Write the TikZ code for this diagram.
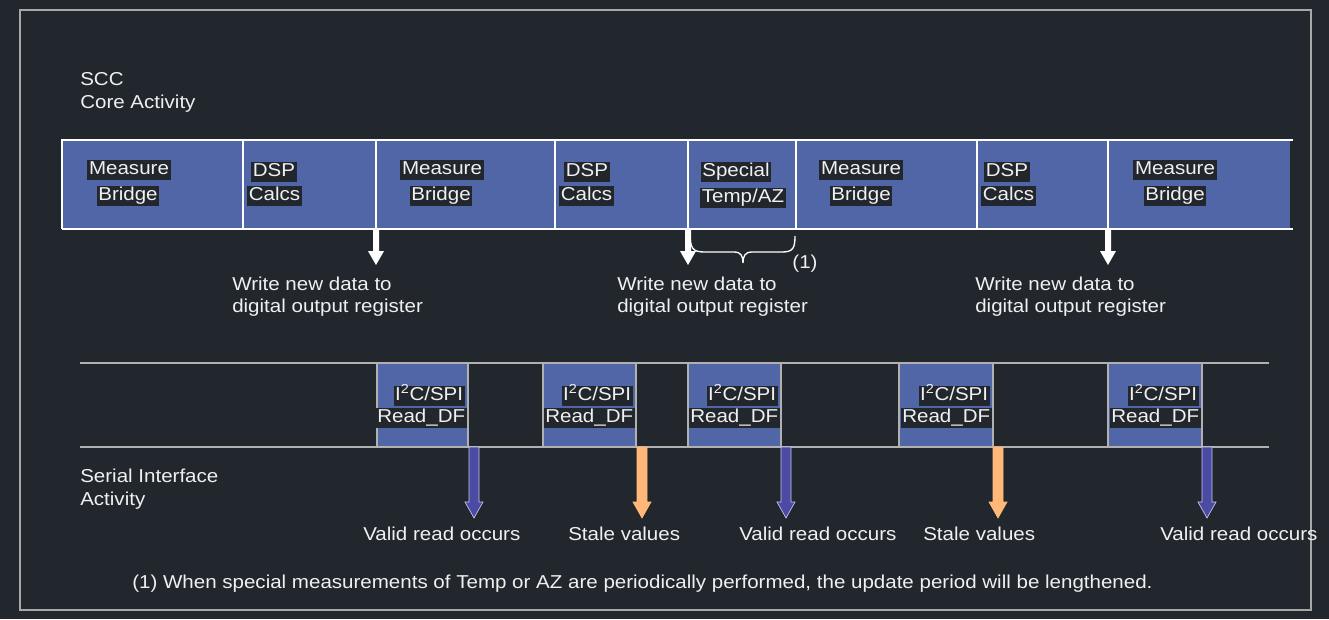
\documentclass[tikz,border=0pt]{standalone}
\usepackage{fontspec}
\setmainfont{Liberation Sans}[FakeStretch=1.1]
\definecolor{bg}{HTML}{22272E}
\definecolor{cellblue}{HTML}{5166A6}
\definecolor{txt}{HTML}{F0F0F0}
\definecolor{framec}{HTML}{A8A8A8}
\definecolor{arrowblue}{HTML}{4B4BA3}
\definecolor{arrowedge}{HTML}{C8C8EE}
\definecolor{orangea}{HTML}{FFB878}
\begin{document}
\begin{tikzpicture}[x=0.75pt,y=-0.75pt,
  lbl/.style={text=txt, inner sep=0pt, font=\fontsize{14}{16}\selectfont},
  hl/.style={lbl, fill=bg, inner sep=1.2pt, text height=10pt, text depth=3pt},
  rowline/.style={draw=white, line width=1pt},
  serline/.style={draw=framec!90!white, line width=1pt},
  pics/wdown/.style={code={
    \fill[white] (-3,0) -- (-3,22) -- (-8,22) -- (0,36) -- (8,22) -- (3,22) -- (3,0) -- cycle;}},
  pics/bdown/.style 2 args={code={
    \filldraw[fill=#1, draw=#2, line width=0.5pt] (-5,0) -- (-5,55) -- (-9,55) -- (0,71) -- (9,55) -- (5,55) -- (5,0) -- cycle;}}
]
\fill[bg] (0,0) rectangle (1329,619);
\useasboundingbox (0,0) rectangle (1329,619);
\draw[framec, line width=1.2pt] (20,10) rectangle (1311,610);

% titles
\node[lbl, anchor=base west] (scc) at (80,85) {SCC};
\node[lbl, anchor=base west] (core) at (80,108) {Core Activity};
\node[lbl, anchor=base west] (ser) at (80,482) {Serial Interface};
\node[lbl, anchor=base west] (act) at (80,505) {Activity};

% top row
\fill[cellblue] (62,140) rectangle (1290,229);
\draw[rowline] (62,229) -- (62,140) -- (1293,140);
\draw[rowline] (62,229) -- (1293,229);
\foreach \x in {243,376,555,688,796,977,1108} \draw[rowline] (\x,140) -- (\x,229);

\node[hl] (m1a) at (129,170) {Measure};
\node[hl] (m1b) at (128,196) {Bridge};
\node[hl, anchor=west] (d1a) at (251,172) {DSP};
\node[hl, anchor=west] (d1b) at (247,196) {Calcs};
\node[hl] (m2a) at (442,170) {Measure};
\node[hl] (m2b) at (441,196) {Bridge};
\node[hl, anchor=west] (d2a) at (564,172) {DSP};
\node[hl, anchor=west] (d2b) at (559,196) {Calcs};
\node[hl] (spa) at (736,172) {Special};
\node[hl] (spb) at (743,198) {Temp/AZ};
\node[hl] (m3a) at (861,170) {Measure};
\node[hl] (m3b) at (861,196) {Bridge};
\node[hl, anchor=west] (d3a) at (984,172) {DSP};
\node[hl, anchor=west] (d3b) at (981,196) {Calcs};
\node[hl] (m4a) at (1175,170) {Measure};
\node[hl] (m4b) at (1175,196) {Bridge};

% write arrows
\coordinate (w1) at (376,229);
\coordinate (w2) at (688,229);
\coordinate (w3) at (1108,229);
\pic at (w1) {wdown};
\pic at (w2) {wdown};
\pic at (w3) {wdown};

% brace
\draw[white, line width=1pt] (690,233) .. controls (690,249) and (693,252) .. (705,252) -- (734,252)
  .. controls (741,252) and (743,256) .. (743,263)
  .. controls (743,256) and (745,252) .. (752,252) -- (782,252)
  .. controls (793,252) and (795,248) .. (795,236);
\node[lbl] (fn1) at (805,264) {(1)};

\node[lbl, anchor=base west] (t1a) at (232,290) {Write new data to};
\node[lbl, anchor=base west] (t1b) at (232,312) {digital output register};
\node[lbl, anchor=base west] (t2a) at (617,290) {Write new data to};
\node[lbl, anchor=base west] (t2b) at (617,312) {digital output register};
\node[lbl, anchor=base west] (t3a) at (975,290) {Write new data to};
\node[lbl, anchor=base west] (t3b) at (975,312) {digital output register};

% serial row
\foreach \a/\b in {377/468,543/636,688/781,899/993,1108/1202}{
  \fill[cellblue] (\a,363) rectangle (\b,447);
  \draw[serline] (\a,363) -- (\a,447);
  \draw[serline] (\b,363) -- (\b,447);
}
\draw[serline] (80,363) -- (1269,363);
\draw[serline] (80,447) -- (1269,447);

\foreach \b [count=\i] in {468,636,781,993,1202}{
  \node[hl, anchor=east] (ia\i) at (\b-3,396) {I\textsuperscript{2}C/SPI};
  \node[hl, anchor=east] (ib\i) at (\b-1,418) {Read\_DF};
}

% read arrows
\coordinate (r1) at (474,447);
\coordinate (r2) at (642,447);
\coordinate (r3) at (786,447);
\coordinate (r4) at (998,447);
\coordinate (r5) at (1207,447);
\pic at (r1) {bdown={arrowblue}{arrowedge}};
\pic at (r2) {bdown={orangea}{orangea}};
\pic at (r3) {bdown={arrowblue}{arrowedge}};
\pic at (r4) {bdown={orangea}{orangea}};
\pic at (r5) {bdown={arrowblue}{arrowedge}};

\node[lbl, anchor=base west] (v1) at (363,540) {Valid read occurs};
\node[lbl, anchor=base west] (s1) at (568,540) {Stale values};
\node[lbl, anchor=base west] (v2) at (739,540) {Valid read occurs};
\node[lbl, anchor=base west] (s2) at (923,540) {Stale values};
\node[lbl, anchor=base west] (v3) at (1160,540) {Valid read occurs};

\node[lbl, anchor=base west] (foot) at (132,588) {(1) When special measurements of Temp or AZ are periodically performed, the update period will be lengthened.};
\end{tikzpicture}
\end{document}
